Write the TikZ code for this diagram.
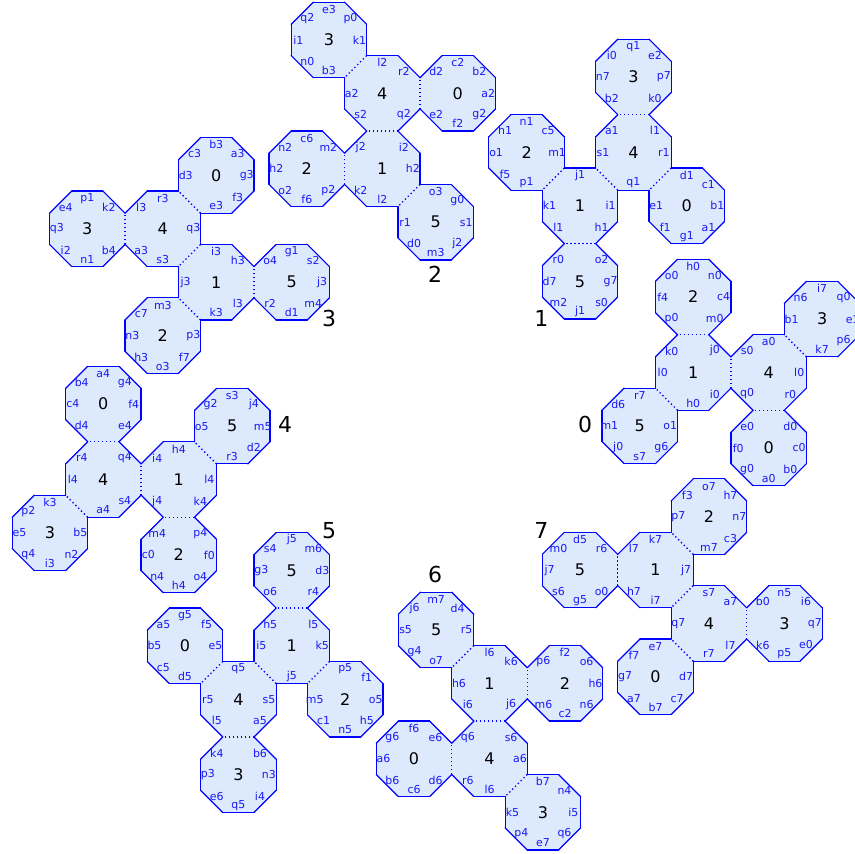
\documentclass[tikz,border=0pt]{standalone}
\usepackage{fontspec}
\setmainfont{DejaVu Sans}
\pgfdeclarelayer{bg}
\pgfsetlayers{bg,main}
\definecolor{octfill}{RGB}{221,233,252}
\definecolor{octline}{RGB}{0,0,255}
\definecolor{labblue}{RGB}{25,25,245}
\def\shmark{*}
\def\octR{40.86}
\def\labR{30.5}
\tikzset{
  octedge/.style={draw=octline, line width=0.9pt, line cap=round},
  octshared/.style={draw=octline, line width=1pt, dash pattern=on 1pt off 2pt},
  edgelab/.style={text=labblue, font=\fontsize{8.2}{9}\selectfont, inner sep=0pt},
  octnum/.style={text=black, font=\fontsize{12}{14}\selectfont, inner sep=0pt},
  clusterlab/.style={text=black, font=\fontsize{16.5}{18}\selectfont, inner sep=0pt},
}
% #1 cluster, #2 x, #3 y, #4 number, #5 labels E,NE,N,NW,W,SW,S,SE (* = shared edge)
\newcommand\octa[5]{%
  \begin{pgfonlayer}{bg}
    \fill[octfill] ({#2+\octR*cos(22.5)},{#3-\octR*sin(22.5)})
      \foreach \k in {1,...,7}{ -- ({#2+\octR*cos(22.5+45*\k)},{#3-\octR*sin(22.5+45*\k)}) } -- cycle;
  \end{pgfonlayer}
  \node[octnum] (n#1o#4) at (#2,#3) {#4};
  \foreach \lab [count=\i from 0] in {#5} {%
    \ifx\lab\shmark
      \ifnum\i<4
        \draw[octshared] ({#2+\octR*cos(45*\i-22.5)},{#3-\octR*sin(45*\i-22.5)}) -- ({#2+\octR*cos(45*\i+22.5)},{#3-\octR*sin(45*\i+22.5)});
      \fi
    \else
      \draw[octedge] ({#2+\octR*cos(45*\i-22.5)},{#3-\octR*sin(45*\i-22.5)}) -- ({#2+\octR*cos(45*\i+22.5)},{#3-\octR*sin(45*\i+22.5)});
      \node[edgelab] (l#1o#4e\i) at ({#2+\labR*cos(45*\i)},{#3-\labR*sin(45*\i)}) {\lab};
    \fi
  }%
}
\begin{document}
\begin{tikzpicture}[x=0.75pt,y=-0.75pt]
\useasboundingbox (0,0) rectangle (855,853);
% cluster 0
\octa{0}{693.2}{372.5}{1}{*,j0,*,k0,l0,*,h0,i0}
\octa{0}{693.2}{297.0}{2}{c4,n0,h0,o0,f4,p0,*,m0}
\octa{0}{768.7}{372.5}{4}{l0,*,a0,s0,*,q0,*,r0}
\octa{0}{639.8}{425.9}{5}{o1,*,r7,d6,m1,j0,s7,g6}
\octa{0}{768.7}{448.0}{0}{c0,d0,*,e0,f0,g0,a0,b0}
\octa{0}{822.1}{319.1}{3}{e1,q0,i7,n6,b1,*,k7,p6}
% cluster 1
\octa{1}{580}{205.8}{1}{i1,*,j1,*,k1,l1,*,h1}
\octa{1}{526.6}{152.4}{2}{m1,c5,n1,h1,o1,f5,p1,*}
\octa{1}{633.4}{152.4}{4}{r1,l1,*,a1,s1,*,q1,*}
\octa{1}{633.4}{76.9}{3}{p7,e2,q1,i0,n7,b2,*,k0}
\octa{1}{686.8}{205.8}{0}{b1,c1,d1,*,e1,f1,g1,a1}
\octa{1}{580}{281.3}{5}{g7,o2,*,r0,d7,m2,j1,s0}
% cluster 2
\octa{2}{382.3}{168.8}{1}{h2,i2,*,j2,*,k2,l2,*}
\octa{2}{382.3}{93.3}{4}{*,r2,l2,*,a2,s2,*,q2}
\octa{2}{328.9}{39.9}{3}{k1,p0,e3,q2,i1,n0,b3,*}
\octa{2}{457.8}{93.3}{0}{a2,b2,c2,d2,*,e2,f2,g2}
\octa{2}{306.8}{168.8}{2}{*,m2,c6,n2,h2,o2,f6,p2}
\octa{2}{435.7}{222.2}{5}{s1,g0,o3,*,r1,d0,m3,j2}
% cluster 3
\octa{3}{216.2}{282.2}{1}{*,h3,i3,*,j3,*,k3,l3}
\octa{3}{162.8}{228.8}{4}{q3,*,r3,l3,*,a3,s3,*}
\octa{3}{87.3}{228.8}{3}{*,k2,p1,e4,q3,i2,n1,b4}
\octa{3}{216.2}{175.4}{0}{g3,a3,b3,c3,d3,*,e3,f3}
\octa{3}{291.7}{282.2}{5}{j3,s2,g1,o4,*,r2,d1,m4}
\octa{3}{162.8}{335.6}{2}{p3,*,m3,c7,n3,h3,o3,f7}
% cluster 4
\octa{4}{178.8}{479.5}{1}{l4,*,h4,i4,*,j4,*,k4}
\octa{4}{103.3}{479.5}{4}{*,q4,*,r4,l4,*,a4,s4}
\octa{4}{103.3}{404.0}{0}{f4,g4,a4,b4,c4,d4,*,e4}
\octa{4}{49.9}{532.9}{3}{b5,*,k3,p2,e5,q4,i3,n2}
\octa{4}{232.2}{426.1}{5}{m5,j4,s3,g2,o5,*,r3,d2}
\octa{4}{178.8}{555.0}{2}{f0,p4,*,m4,c0,n4,h4,o4}
% cluster 5
\octa{5}{291.8}{645.8}{1}{k5,l5,*,h5,i5,*,j5,*}
\octa{5}{291.8}{570.3}{5}{d3,m6,j5,s4,g3,o6,*,r4}
\octa{5}{238.4}{699.2}{4}{s5,*,q5,*,r5,l5,*,a5}
\octa{5}{185.0}{645.8}{0}{e5,f5,g5,a5,b5,c5,d5,*}
\octa{5}{238.4}{774.7}{3}{n3,b6,*,k4,p3,e6,q5,i4}
\octa{5}{345.2}{699.2}{2}{o5,f1,p5,*,m5,c1,n5,h5}
% cluster 6
\octa{6}{489.5}{683.3}{1}{*,k6,l6,*,h6,i6,*,j6}
\octa{6}{436.1}{629.9}{5}{r5,d4,m7,j6,s5,g4,o7,*}
\octa{6}{565.0}{683.3}{2}{h6,o6,f2,p6,*,m6,c2,n6}
\octa{6}{489.5}{758.8}{4}{a6,s6,*,q6,*,r6,l6,*}
\octa{6}{414.0}{758.8}{0}{*,e6,f6,g6,a6,b6,c6,d6}
\octa{6}{542.9}{812.2}{3}{i5,n4,b7,*,k5,p4,e7,q6}
% cluster 7
\octa{7}{655.5}{570.0}{1}{j7,*,k7,l7,*,h7,i7,*}
\octa{7}{580.0}{570.0}{5}{*,r6,d5,m0,j7,s6,g5,o0}
\octa{7}{708.9}{516.6}{2}{n7,h7,o7,f3,p7,*,m7,c3}
\octa{7}{708.9}{623.4}{4}{*,a7,s7,*,q7,*,r7,l7}
\octa{7}{784.4}{623.4}{3}{q7,i6,n5,b0,*,k6,p5,e0}
\octa{7}{655.5}{676.8}{0}{d7,*,e7,f7,g7,a7,b7,c7}
% cluster labels
\node[clusterlab] (cl0) at (585.2,424.6) {0};
\node[clusterlab] (cl1) at (541.3,318.5) {1};
\node[clusterlab] (cl2) at (435.2,274.6) {2};
\node[clusterlab] (cl3) at (329.1,318.5) {3};
\node[clusterlab] (cl4) at (285.2,424.6) {4};
\node[clusterlab] (cl5) at (329.1,530.7) {5};
\node[clusterlab] (cl6) at (435.2,574.6) {6};
\node[clusterlab] (cl7) at (541.3,530.7) {7};
\end{tikzpicture}
\end{document}
